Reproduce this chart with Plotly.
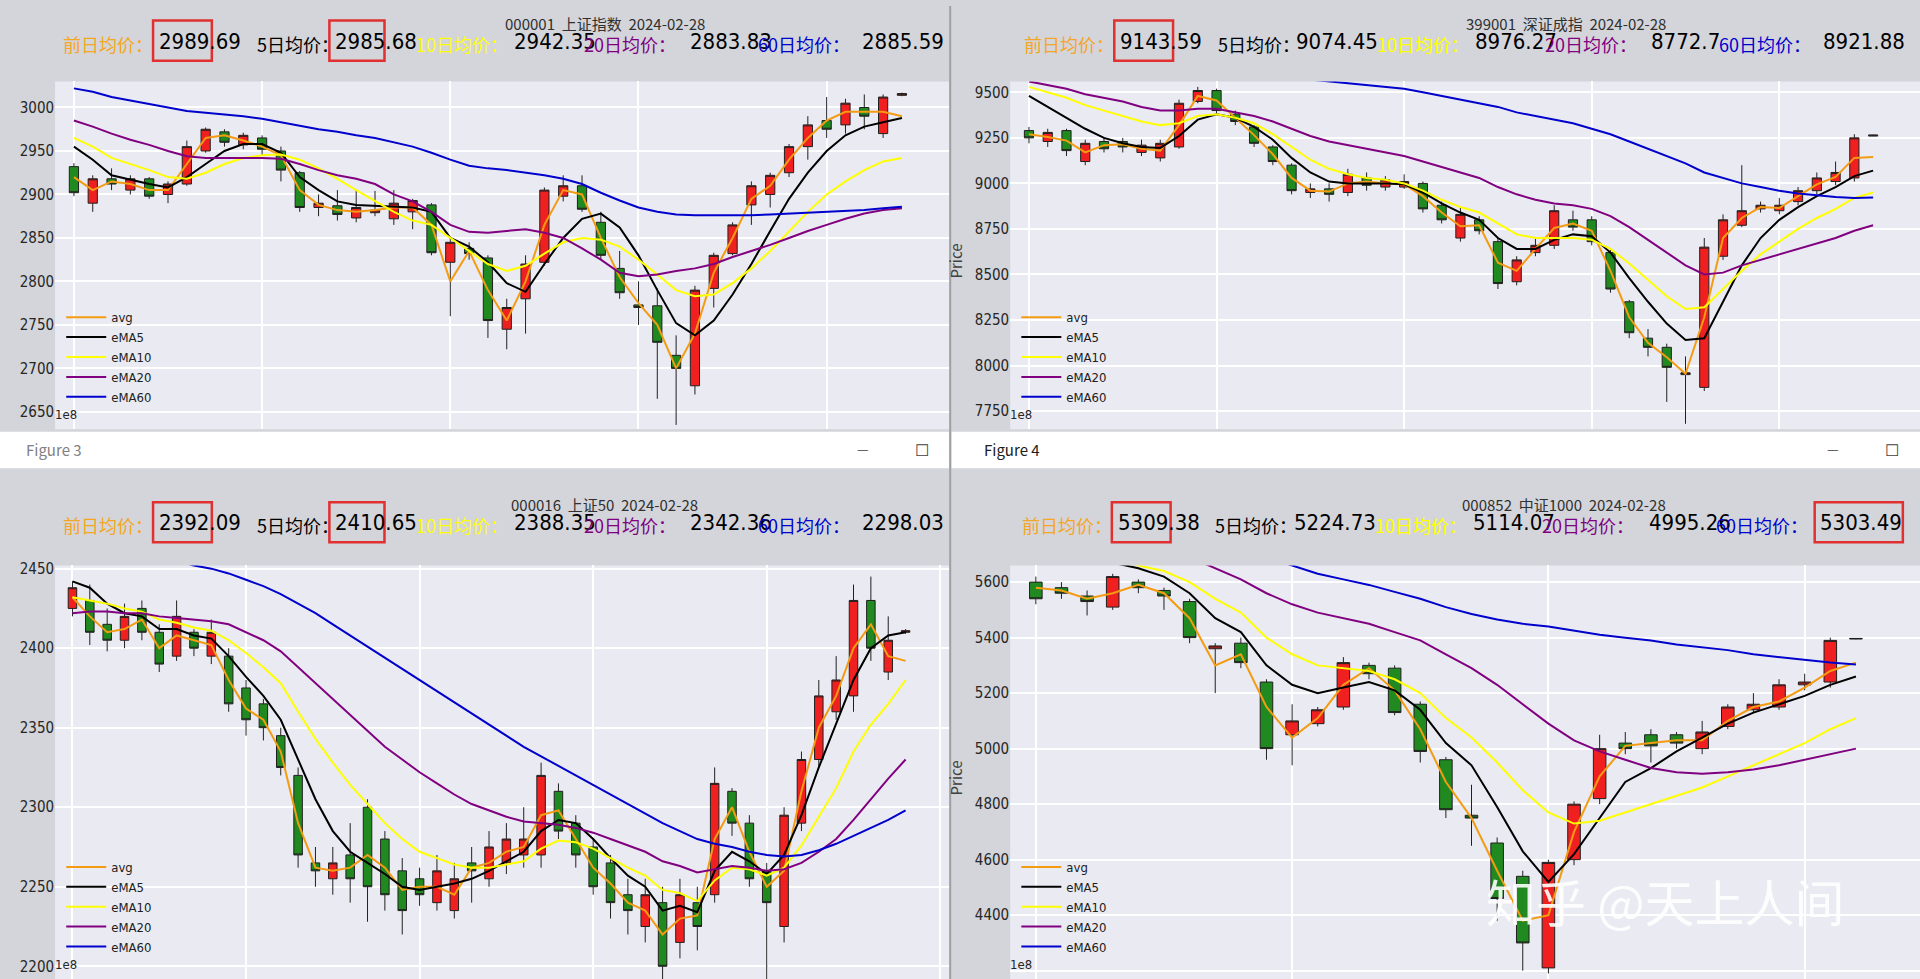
import plotly.graph_objects as go

# ---------------- data ----------------
# panel 1: 000001 上证指数
p1_open = [2932,2890,2918,2905,2918,2900,2912,2950,2972,2957,2965,2950,2925,2885,2887,2873,2879,2872,2880,2888,2822,2838,2827,2745,2780,2822,2898,2910,2868,2815,2773,2772,2715,2680,2792,2832,2888,2900,2925,2955,2985,2980,3000,2970,3014]
p1_close = [2902,2918,2912,2918,2898,2912,2955,2975,2960,2968,2952,2928,2885,2890,2877,2885,2882,2890,2893,2833,2845,2832,2755,2770,2820,2905,2910,2883,2830,2787,2770,2730,2700,2790,2830,2865,2910,2922,2955,2980,2975,3005,2990,3012,3016]
p1_high = [2936,2922,2930,2922,2920,2915,2962,2977,2975,2971,2968,2955,2927,2900,2905,2905,2904,2905,2895,2890,2850,2845,2830,2780,2830,2908,2922,2922,2880,2835,2800,2792,2738,2795,2833,2868,2915,2925,2958,2990,3012,3010,3015,3015,3017]
p1_low = [2898,2880,2905,2900,2895,2890,2910,2948,2955,2952,2945,2915,2880,2875,2870,2868,2875,2865,2860,2830,2760,2825,2735,2722,2740,2818,2892,2880,2825,2780,2750,2665,2635,2670,2770,2830,2865,2885,2920,2940,2965,2970,2975,2965,3013]
p1_avg = [2920,2905,2915,2912,2905,2905,2935,2965,2968,2962,2955,2945,2905,2888,2882,2880,2882,2885,2885,2865,2800,2835,2790,2755,2800,2865,2905,2900,2850,2805,2775,2750,2700,2740,2810,2850,2895,2910,2940,2965,2985,2995,2995,2995,2990]
p1_ema5 = [2955,2940,2922,2917,2912,2908,2920,2935,2950,2958,2958,2948,2920,2905,2892,2888,2887,2886,2885,2880,2850,2840,2822,2798,2788,2820,2850,2872,2878,2862,2830,2790,2752,2738,2755,2785,2820,2858,2895,2925,2950,2968,2978,2983,2988]
p1_ema10 = [2965,2955,2942,2935,2928,2920,2918,2925,2935,2942,2945,2946,2940,2930,2918,2905,2893,2880,2870,2865,2850,2835,2820,2812,2818,2832,2845,2850,2848,2840,2825,2808,2790,2783,2785,2798,2815,2835,2858,2880,2900,2915,2928,2938,2942]
p1_ema20 = [2985,2978,2970,2963,2957,2950,2944,2942,2942,2942,2942,2941,2935,2928,2922,2918,2912,2900,2892,2880,2865,2857,2856,2858,2860,2856,2850,2838,2825,2810,2806,2808,2812,2815,2820,2828,2835,2842,2850,2858,2865,2872,2878,2882,2884]
p1_ema60 = [3022,3018,3012,3008,3004,3000,2996,2994,2992,2990,2987,2983,2979,2975,2972,2968,2965,2960,2955,2948,2940,2933,2930,2928,2925,2922,2918,2912,2902,2893,2885,2880,2877,2876,2876,2876,2876,2877,2878,2879,2880,2881,2882,2884,2886]

# panel 2: 399001 深证成指
p2_open = [9290,9230,9290,9120,9230,9230,9170,9140,9200,9450,9510,9380,9310,9200,9100,8950,8970,8950,9030,8980,8980,9000,8880,8700,8800,8680,8460,8620,8660,8800,8800,8620,8350,8150,8100,7950,7880,8600,8770,8860,8850,8900,8960,9010,9030,9260]
p2_close = [9250,9280,9180,9220,9190,9200,9210,9220,9440,9510,9400,9340,9220,9120,8960,8970,8940,9050,8990,9020,9010,8860,8800,8830,8740,8450,8580,8660,8850,8760,8680,8420,8180,8100,7990,7960,8650,8800,8850,8880,8880,8960,9030,9060,9250,9265]
p2_high = [9310,9300,9300,9240,9250,9250,9240,9240,9460,9530,9520,9400,9320,9210,9110,9000,9000,9080,9060,9040,9050,9010,8900,8870,8820,8700,8600,8700,8880,8850,8820,8640,8360,8200,8120,8050,8700,8830,9100,8900,8920,8980,9060,9120,9270,9267]
p2_low = [9220,9200,9150,9100,9170,9170,9150,9120,9190,9440,9380,9320,9200,9100,8940,8920,8900,8930,8960,8960,8970,8840,8780,8680,8720,8420,8440,8600,8640,8740,8660,8400,8150,8050,7800,7680,7860,8580,8760,8840,8830,8880,8940,8990,9010,9262]
p2_avg = [9270,9255,9235,9170,9210,9215,9190,9180,9320,9480,9455,9360,9265,9160,9030,8960,8955,9000,9010,9000,8995,8930,8840,8765,8770,8565,8520,8640,8755,8780,8740,8520,8265,8125,8045,7955,8265,8700,8810,8870,8865,8930,8995,9035,9140,9145]
p2_ema5 = [9480,9420,9360,9300,9250,9220,9200,9195,9260,9350,9380,9360,9310,9240,9140,9060,9010,9000,9000,9000,8995,8950,8890,8840,8800,8700,8640,8640,8690,8720,8710,8620,8480,8350,8230,8140,8150,8350,8550,8700,8800,8870,8930,8980,9040,9070]
p2_ema10 = [9530,9500,9470,9430,9400,9370,9340,9320,9330,9370,9380,9360,9330,9270,9200,9130,9080,9050,9030,9020,9000,8960,8910,8870,8840,8780,8720,8700,8700,8700,8690,8640,8560,8470,8380,8310,8320,8420,8520,8610,8680,8750,8810,8860,8920,8950]
p2_ema20 = [9560,9540,9520,9490,9470,9450,9420,9400,9400,9410,9410,9390,9370,9340,9300,9260,9230,9210,9190,9170,9150,9120,9090,9060,9030,8980,8940,8910,8890,8880,8860,8820,8760,8690,8620,8550,8500,8510,8550,8580,8610,8640,8670,8700,8740,8770]
p2_ema60 = [9720,9700,9690,9680,9670,9660,9650,9640,9640,9640,9640,9630,9620,9600,9590,9570,9560,9550,9540,9530,9520,9500,9480,9460,9440,9420,9390,9370,9350,9330,9300,9270,9230,9190,9150,9110,9060,9030,9000,8980,8960,8945,8935,8925,8920,8922]

# panel 3: 000016 上证50
p3_open = [2425,2430,2415,2405,2425,2410,2395,2410,2395,2395,2375,2365,2345,2320,2265,2255,2270,2300,2280,2260,2255,2240,2235,2265,2255,2265,2270,2270,2310,2290,2275,2265,2245,2225,2240,2215,2240,2245,2310,2290,2260,2225,2290,2330,2360,2370,2430,2385,2410]
p3_close = [2438,2410,2405,2420,2410,2390,2420,2400,2410,2365,2355,2350,2325,2270,2260,2265,2255,2250,2245,2235,2245,2260,2255,2260,2275,2280,2280,2320,2285,2270,2250,2240,2235,2245,2200,2245,2225,2315,2290,2255,2240,2295,2330,2370,2380,2430,2400,2405,2411]
p3_high = [2442,2440,2425,2428,2430,2415,2430,2412,2418,2400,2380,2368,2350,2325,2275,2275,2290,2305,2285,2268,2262,2270,2265,2275,2285,2290,2300,2328,2315,2295,2280,2270,2255,2255,2250,2255,2250,2325,2312,2295,2265,2300,2335,2380,2395,2440,2445,2420,2412]
p3_low = [2420,2402,2398,2400,2405,2385,2392,2395,2390,2360,2345,2342,2320,2262,2250,2245,2240,2228,2235,2220,2238,2235,2230,2240,2250,2258,2262,2262,2280,2262,2245,2230,2220,2215,2190,2205,2210,2240,2282,2250,2188,2215,2285,2325,2355,2360,2392,2380,2409]
p3_avg = [2432,2420,2410,2412,2418,2400,2408,2405,2402,2380,2362,2355,2335,2290,2262,2260,2262,2270,2262,2248,2250,2250,2245,2262,2265,2272,2275,2295,2298,2280,2262,2252,2240,2235,2220,2230,2232,2280,2300,2272,2250,2260,2310,2350,2370,2400,2415,2395,2392]
p3_ema5 = [2442,2438,2428,2422,2420,2412,2412,2408,2406,2395,2382,2370,2355,2330,2305,2285,2272,2265,2258,2250,2248,2250,2252,2255,2260,2266,2272,2285,2292,2290,2280,2268,2257,2250,2235,2238,2234,2260,2272,2266,2258,2270,2295,2325,2352,2380,2400,2408,2410]
p3_ema10 = [2432,2430,2428,2425,2423,2418,2416,2413,2411,2405,2397,2388,2378,2360,2343,2328,2314,2302,2290,2280,2272,2268,2264,2262,2262,2264,2266,2274,2279,2278,2274,2268,2262,2257,2248,2246,2241,2254,2262,2261,2257,2262,2276,2294,2312,2335,2352,2365,2380]
p3_ema20 = [2422,2423,2423,2422,2422,2420,2419,2418,2417,2415,2410,2405,2398,2388,2378,2368,2358,2348,2338,2330,2322,2315,2308,2302,2298,2294,2291,2290,2289,2287,2284,2280,2276,2272,2266,2263,2259,2261,2263,2262,2260,2261,2265,2272,2280,2292,2305,2318,2330]
p3_ema60 = [2475,2472,2468,2465,2461,2458,2455,2452,2450,2447,2443,2439,2434,2428,2422,2415,2408,2401,2394,2387,2380,2373,2366,2359,2352,2345,2338,2332,2326,2320,2314,2308,2302,2296,2290,2285,2280,2277,2275,2272,2270,2269,2270,2273,2277,2282,2287,2292,2298]

# panel 4: 000852 中证1000
p4_open = [5600,5580,5550,5510,5600,5570,5530,5360,5380,5240,5050,5090,5150,5300,5290,5160,4960,4760,4660,4540,4210,4600,4820,5020,5050,5050,5000,5080,5140,5150,5230,5240,5395]
p4_close = [5540,5560,5530,5620,5580,5550,5400,5370,5310,5000,5100,5140,5310,5270,5130,4990,4780,4750,4460,4300,4590,4800,5000,5000,5010,5020,5060,5150,5160,5230,5240,5390,5397]
p4_high = [5620,5600,5570,5630,5610,5580,5540,5380,5400,5250,5160,5150,5330,5310,5300,5170,4970,4870,4680,4560,4600,4810,5050,5060,5070,5060,5100,5160,5200,5250,5270,5400,5398]
p4_low = [5520,5540,5480,5500,5560,5500,5380,5200,5290,4960,4940,5080,5140,5250,5120,4950,4750,4650,4380,4200,4190,4580,4800,4980,4950,5000,4980,5070,5130,5140,5210,5220,5394]
p4_avg = [5580,5570,5540,5560,5590,5560,5470,5300,5340,5150,5040,5110,5230,5290,5210,5070,4880,4750,4560,4380,4400,4700,4900,5010,5020,5030,5030,5100,5150,5170,5220,5280,5310]
p4_ema5 = [5800,5760,5710,5670,5650,5620,5560,5470,5420,5300,5230,5200,5220,5240,5210,5140,5020,4940,4790,4630,4520,4620,4750,4880,4930,4990,5040,5090,5130,5160,5190,5230,5260]
p4_ema10 = [5800,5760,5720,5690,5660,5640,5600,5540,5490,5400,5340,5300,5290,5280,5250,5200,5110,5040,4950,4850,4770,4730,4740,4770,4800,4830,4860,4900,4940,4980,5020,5070,5110]
p4_ema20 = [5850,5820,5790,5760,5740,5720,5690,5650,5610,5560,5520,5490,5470,5450,5420,5390,5340,5290,5230,5160,5090,5030,4990,4960,4930,4915,4910,4915,4925,4940,4960,4980,5000]
p4_ema60 = [5900,5880,5860,5840,5820,5800,5780,5750,5720,5690,5660,5630,5610,5590,5565,5540,5510,5485,5465,5450,5440,5425,5410,5400,5390,5375,5365,5355,5340,5330,5320,5310,5303]

titles = ["000001  上证指数  2024-02-28", "399001  深证成指  2024-02-28",
          "000016  上证50  2024-02-28", "000852  中证1000  2024-02-28"]
header_values = [["2989.69", "2985.68", "2942.35", "2883.83", "2885.59"],
                 ["9143.59", "9074.45", "8976.27", "8772.7", "8921.88"],
                 ["2392.09", "2410.65", "2388.35", "2342.36", "2298.03"],
                 ["5309.38", "5224.73", "5114.07", "4995.26", "5303.49"]]
header_labels = ["前日均价：", "5日均价：", "10日均价：", "20日均价：", "60日均价："]
line_names = ["avg", "eMA5", "eMA10", "eMA20", "eMA60"]

panels = [
    (p1_open, p1_close, p1_high, p1_low, [p1_avg, p1_ema5, p1_ema10, p1_ema20, p1_ema60]),
    (p2_open, p2_close, p2_high, p2_low, [p2_avg, p2_ema5, p2_ema10, p2_ema20, p2_ema60]),
    (p3_open, p3_close, p3_high, p3_low, [p3_avg, p3_ema5, p3_ema10, p3_ema20, p3_ema60]),
    (p4_open, p4_close, p4_high, p4_low, [p4_avg, p4_ema5, p4_ema10, p4_ema20, p4_ema60]),
]

# ---------------- layout helpers ----------------
W, H = 1568.0, 800.0   # reference measured at this scale


def px(x):
    return x / W


def py(y):
    return 1 - y / H


line_colors = ["#f39c12", "black", "#ffff00", "#800080", "#0000cd"]
label_colors = ["#f5a623", "black", "#ffff00", "#800080", "#0000cd"]
header_bg = "#d3d5da"
plot_bg = "#eaeaf2"

areas = [(45, 775, 62, 348), (825, 1568, 62, 348), (45, 775, 460, 800), (825, 1568, 460, 800)]
yranges = [(2630, 3030), (7650, 9560), (2192, 2452), (4170, 5660)]
ydtick = [50, 250, 50, 200]
offsets = [(0, 0), (785, 0), (0, 396), (783, 396)]
boxes = [[0, 1], [0], [0, 1], [0, 4]]

fig = go.Figure()
shapes = []
annos = []


def note(text, x, y, size, color, anchor="center", family="Noto Sans CJK SC", angle=0):
    annos.append(dict(text=text, x=px(x), y=py(y), xref="paper", yref="paper", showarrow=False,
                      xanchor=anchor, yanchor="middle", textangle=angle,
                      font=dict(size=size, color=color, family=family)))


shapes.append(dict(type="rect", xref="paper", yref="paper", x0=0, x1=1, y0=0, y1=1,
                   fillcolor=header_bg, line_width=0, layer="below"))
for bx in [(0, 775), (777, 1568)]:
    shapes.append(dict(type="rect", xref="paper", yref="paper", x0=px(bx[0]), x1=px(bx[1]),
                       y0=py(380), y1=py(350), fillcolor="white", line_width=0, layer="below"))
shapes.append(dict(type="line", xref="paper", yref="paper", x0=px(776), x1=px(776), y0=0, y1=1,
                   line=dict(color="#a0a0a0", width=2)))
note("Figure 3", 20, 365, 15, "#808080", "left")
note("Figure 4", 802, 365, 15, "#202020", "left")
for bx in [705, 1497]:
    note("—", bx, 364, 13, "#404040")
for bx in [753, 1545]:
    note("☐", bx, 364, 16, "#404040")

lab_x = [50, 208, 338, 475, 617]
val_x = [128, 272, 418, 562, 702]
val_w = [48, 45, 62, 50, 72]

for i, (o, c, h, l, lines) in enumerate(panels):
    n = i + 1
    xa = "xaxis" if n == 1 else f"xaxis{n}"
    ya = "yaxis" if n == 1 else f"yaxis{n}"
    xr = "x" if n == 1 else f"x{n}"
    yr = "y" if n == 1 else f"y{n}"
    lg = "legend" if n == 1 else f"legend{n}"
    idx = list(range(len(o)))
    x0, x1, y0, y1 = areas[i]
    fig.add_trace(go.Candlestick(
        x=idx, open=o, high=h, low=l, close=c, xaxis=xr, yaxis=yr, showlegend=False,
        increasing=dict(fillcolor="#f02020", line=dict(color="#202020", width=1)),
        decreasing=dict(fillcolor="#208a20", line=dict(color="#202020", width=1)),
        whiskerwidth=0, hoverinfo="skip"))
    for name, vals, col in zip(line_names, lines, line_colors):
        fig.add_trace(go.Scatter(x=idx, y=vals, mode="lines", name=name, xaxis=xr, yaxis=yr,
                                 line=dict(color=col, width=2), legend=lg))
    fig.layout[xa] = dict(domain=[px(x0), px(x1)], range=[-1, len(o) + 1.5], showticklabels=False,
                          showgrid=True, gridcolor="white", gridwidth=2, dtick=10, zeroline=False,
                          rangeslider=dict(visible=False), anchor=yr)
    fig.layout[ya] = dict(domain=[py(y1), py(y0)], range=list(yranges[i]), dtick=ydtick[i],
                          showgrid=True, gridcolor="white", gridwidth=2, zeroline=False,
                          tickfont=dict(size=15, color="#262626", family="DejaVu Sans Condensed"),
                          anchor=xr, ticks="")
    shapes.append(dict(type="rect", xref="paper", yref="paper", x0=px(x0), x1=px(x1), y0=py(y1),
                       y1=py(y0), fillcolor=plot_bg, line_width=0, layer="below"))
    fig.layout[lg] = dict(x=px(x0 + 5), y=py(y1 - 14), xanchor="left", yanchor="bottom",
                          bgcolor="rgba(0,0,0,0)", font=dict(size=13, color="#202020",
                                                             family="DejaVu Sans Condensed"),
                          itemwidth=40, tracegroupgap=0)
    note("1e8", x0 - 2, y1 - 12, 13, "#262626", "left", "DejaVu Sans Condensed")
    if i % 2 == 1:
        note("Price", x0 - 45, (y0 + y1) / 2 + 5, 15, "#404040", angle=-90)
    ox, oy = offsets[i]
    note(titles[i], ox + 494, oy + 14, 15, "#303030")
    for k in range(5):
        note(header_labels[k], ox + lab_x[k], oy + 31, 18, label_colors[k], "left")
        note(header_values[i][k], ox + val_x[k], oy + 29, 22, "black", "left", "DejaVu Sans Condensed")
    for k in boxes[i]:
        bx0 = ox + val_x[k] - 3
        shapes.append(dict(type="rect", xref="paper", yref="paper", x0=px(bx0), x1=px(bx0 + val_w[k]),
                           y0=py(oy + 45), y1=py(oy + 12), line=dict(color="#e03030", width=2.5)))

note("知乎 @天上人间", 1360, 735, 50, "rgba(255,255,255,0.9)")

fig.update_layout(width=1920, height=979, margin=dict(l=0, r=0, t=0, b=0),
                  paper_bgcolor=header_bg, plot_bgcolor="rgba(0,0,0,0)",
                  shapes=shapes, annotations=annos,
                  font=dict(family="Noto Sans CJK SC"))
fig.write_html("out.html", config={"displayModeBar": False})

# drop the default page margin so the figure fills the window
with open("out.html", encoding="utf-8") as f:
    page = f.read()
page = page.replace("<body>", '<body style="margin:0">', 1)
with open("out.html", "w", encoding="utf-8") as f:
    f.write(page)
